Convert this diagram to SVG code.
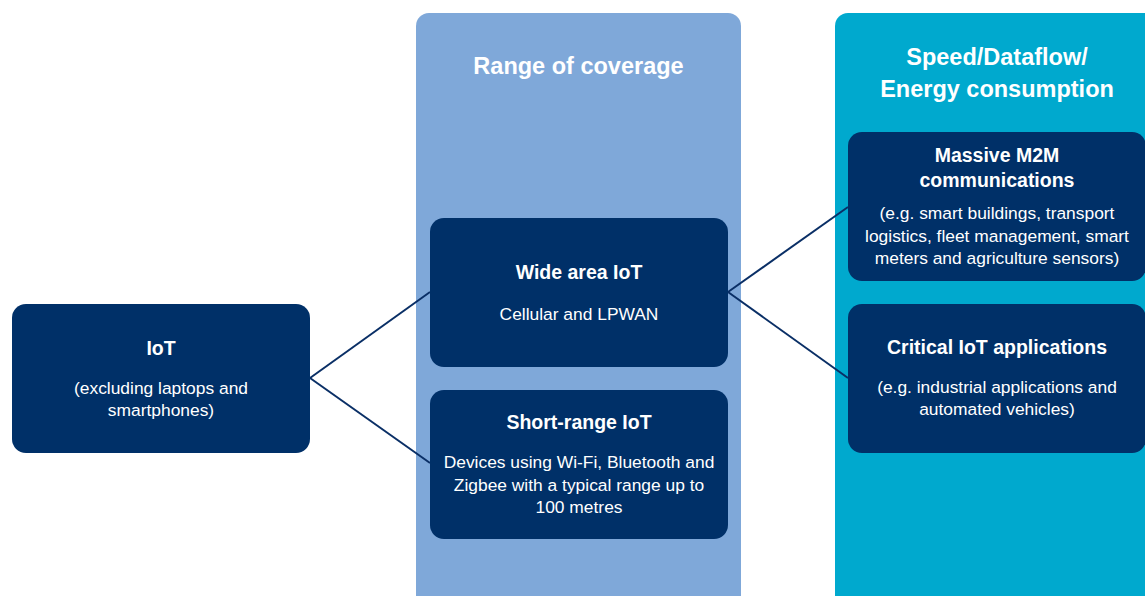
<svg xmlns="http://www.w3.org/2000/svg" width="1145" height="596" viewBox="0 0 1145 596">
<style>
.panel1{fill:#7FA8D9}
.panel2{fill:#00A9CE}
.box{fill:#003068}
.hd{font-family:"Liberation Sans",Arial,sans-serif;font-weight:bold;font-size:23.5px;fill:#fff;text-anchor:middle}
.tt{font-family:"Liberation Sans",Arial,sans-serif;font-weight:bold;font-size:19.5px;fill:#fff;text-anchor:middle}
.bd{font-family:"Liberation Sans",Arial,sans-serif;font-size:17.4px;fill:#fff;text-anchor:middle}
.conn{stroke:#0A2F66;stroke-width:2;fill:none}
</style>
<rect width="1145" height="596" fill="#fff"/>
<g id="panel-range">
<rect class="panel1" x="416" y="13" width="325" height="610" rx="13"/>
<text class="hd" x="578.5" y="74">Range of coverage</text>
</g>
<g id="panel-speed">
<rect class="panel2" x="835" y="13" width="330" height="610" rx="13"/>
<text class="hd" x="997" y="65">Speed/Dataflow/</text>
<text class="hd" x="997" y="97">Energy consumption</text>
</g>
<g id="connectors">
<line class="conn" x1="310" y1="378" x2="430" y2="292"/>
<line class="conn" x1="310" y1="378" x2="430" y2="463"/>
<line class="conn" x1="728" y1="292" x2="848" y2="207"/>
<line class="conn" x1="728" y1="292" x2="848" y2="378"/>
</g>
<g id="node-iot">
<rect class="box" x="12" y="304" width="298" height="149" rx="14"/>
<text class="tt" x="161" y="355">IoT</text>
<text class="bd" x="161" y="394">(excluding laptops and</text>
<text class="bd" x="161" y="416">smartphones)</text>
</g>
<g id="node-wide">
<rect class="box" x="430" y="218" width="298" height="149" rx="14"/>
<text class="tt" x="579" y="279">Wide area IoT</text>
<text class="bd" x="579" y="320">Cellular and LPWAN</text>
</g>
<g id="node-short">
<rect class="box" x="430" y="390" width="298" height="149" rx="14"/>
<text class="tt" x="579" y="429">Short-range IoT</text>
<text class="bd" x="579" y="468">Devices using Wi-Fi, Bluetooth and</text>
<text class="bd" x="579" y="490.5">Zigbee with a typical range up to</text>
<text class="bd" x="579" y="513">100 metres</text>
</g>
<g id="node-m2m">
<rect class="box" x="848" y="132" width="298" height="149" rx="14"/>
<text class="tt" x="997" y="162">Massive M2M</text>
<text class="tt" x="997" y="187">communications</text>
<text class="bd" x="997" y="219">(e.g. smart buildings, transport</text>
<text class="bd" x="997" y="241.5">logistics, fleet management, smart</text>
<text class="bd" x="997" y="264">meters and agriculture sensors)</text>
</g>
<g id="node-critical">
<rect class="box" x="848" y="304" width="298" height="149" rx="14"/>
<text class="tt" x="997" y="354">Critical IoT applications</text>
<text class="bd" x="997" y="393">(e.g. industrial applications and</text>
<text class="bd" x="997" y="415">automated vehicles)</text>
</g>
</svg>
